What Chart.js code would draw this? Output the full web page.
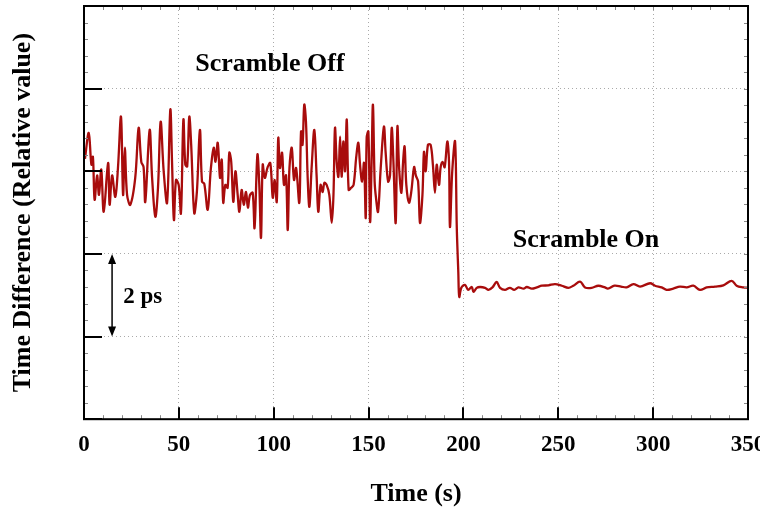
<!DOCTYPE html>
<html lang="en">
<head>
    <meta charset="UTF-8">
    <title>Time Difference - Scramble Off / On</title>
    <script src="https://cdn.jsdelivr.net/npm/chart.js"></script>
    <style>
        html, body { margin: 0; padding: 0; background: #fff; }
        canvas { display: block; }
    </style>
</head>
<body>
    <canvas id="timeChart" width="760" height="510"></canvas>

    <script>
        // Data
        const timeS = [
            0.5, 2.5, 3.9, 4.7, 5.6, 6.9, 7.9, 9.1, 10.4, 12.7, 13.5, 14.8, 16.5, 17.9, 19.5, 20.6, 21.5, 22.7, 24.4, 27.0,
            28.8, 30.2, 31.4, 32.3, 34.6, 35.9, 37.6, 39.0, 40.4, 42.0, 43.8, 45.5, 46.4, 47.4, 48.5, 49.9, 51.1, 52.4, 53.4, 54.4,
            55.5, 56.5, 58.1, 59.5, 61.1, 62.2, 63.4, 65.2, 66.9, 68.4, 69.3, 70.5, 71.7, 72.6, 73.4, 74.5, 75.7, 76.6, 77.6, 78.7,
            79.8, 81.0, 81.9, 83.1, 84.2, 85.4, 86.4, 87.5, 88.9, 89.9, 91.4, 92.4, 93.3, 94.2, 95.3, 96.8, 98.2, 99.5, 100.5, 101.6,
            102.4, 103.3, 104.4, 105.4, 106.5, 107.4, 108.3, 109.5, 110.7, 111.8, 113.5, 114.4, 115.2, 116.1, 117.0, 117.9, 118.8, 120.0, 121.4, 122.6,
            123.5, 124.7, 125.8, 126.7, 127.9, 129.3, 130.6, 131.5, 132.3, 133.2, 134.1, 135.0, 135.8, 136.7, 137.6, 138.5, 139.5, 140.8, 142.1, 143.5,
            144.6, 145.5, 146.6, 147.6, 148.5, 149.0, 149.9, 150.8, 151.6, 152.3, 153.2, 153.9, 155.0, 156.4, 158.1, 159.0, 160.3, 161.3, 162.2, 163.1,
            164.3, 165.2, 166.1, 167.3, 168.2, 169.0, 169.9, 171.3, 172.5, 174.0, 174.9, 176.1, 177.1, 178.4, 179.2, 180.1, 181.3, 182.7, 183.9, 185.0,
            185.9, 187.1, 188.0, 189.0, 190.1, 191.5, 192.4, 192.9, 194.1, 195.6, 196.5, 197.3, 197.8, 198.9, 200.8,
            202.5, 204.4, 205.3, 207.0, 208.8, 211.4, 213.2, 215.3, 217.5, 219.3, 221.9, 224.5, 226.8, 229.0, 231.7, 233.4, 236.0, 238.7, 241.3, 244.8,
            248.3, 251.8, 255.3, 257.9, 261.5, 264.1, 267.6, 271.1, 274.6, 276.1, 279.6, 283.1, 286.0, 289.6, 293.1, 298.4, 301.0, 304.5, 307.1, 310.6,
            314.1, 317.7, 321.2, 324.7, 328.2, 332.6, 337.0, 341.4, 344.0, 347.5, 350.0
        ];
        const diffPs = [
            6.30, 6.93, 6.16, 6.35, 5.31, 5.90, 5.43, 6.04, 5.02, 6.20, 5.19, 5.90, 5.38, 6.08, 7.32, 5.43, 6.57, 5.43, 5.19, 5.84,
            7.05, 6.23, 6.10, 5.26, 7.00, 5.84, 4.90, 5.60, 7.20, 6.00, 5.24, 7.49, 6.23, 4.82, 5.79, 5.67, 4.99, 7.25, 6.16, 6.12,
            7.32, 6.64, 4.99, 5.50, 7.00, 5.75, 5.70, 5.07, 6.08, 6.57, 6.23, 6.69, 5.84, 6.28, 5.24, 5.67, 5.60, 6.45, 6.23, 5.26,
            6.00, 5.43, 5.02, 5.55, 5.19, 5.50, 5.12, 5.43, 5.48, 4.63, 6.40, 5.67, 4.39, 6.16, 5.84, 6.10, 6.20, 5.36, 5.79, 5.26,
            6.81, 6.08, 6.45, 5.67, 5.90, 4.58, 6.08, 6.57, 5.79, 6.08, 5.24, 6.96, 6.64, 7.61, 7.20, 5.84, 5.14, 6.10, 7.00, 5.90,
            5.02, 5.67, 5.50, 5.72, 5.67, 5.43, 4.75, 5.43, 7.05, 6.23, 5.87, 6.84, 5.87, 6.72, 6.00, 7.25, 5.55, 5.60, 5.67, 6.35,
            6.69, 6.16, 5.75, 6.20, 4.87, 6.81, 6.96, 4.78, 6.23, 7.61, 5.75, 5.36, 5.02, 6.08, 7.08, 6.45, 5.75, 5.90, 7.05, 6.23,
            4.75, 7.08, 6.08, 5.48, 6.23, 6.60, 5.67, 5.24, 5.50, 6.10, 5.90, 5.75, 4.75, 5.43, 6.47, 6.00, 6.64, 6.64, 6.16, 5.48,
            6.16, 5.67, 6.10, 6.23, 6.10, 6.72, 6.23, 4.65, 6.00, 6.72, 4.63, 3.56, 2.96, 3.18, 3.25,
            3.13, 3.20, 3.08, 3.18, 3.20, 3.18, 3.13, 3.19, 3.32, 3.18, 3.13, 3.18, 3.13, 3.19, 3.16, 3.20, 3.16, 3.19, 3.23, 3.24,
            3.27, 3.23, 3.18, 3.23, 3.33, 3.19, 3.18, 3.23, 3.19, 3.16, 3.23, 3.21, 3.19, 3.27, 3.21, 3.29, 3.23, 3.19, 3.13, 3.16,
            3.21, 3.19, 3.23, 3.13, 3.19, 3.21, 3.24, 3.35, 3.23, 3.19, 3.18
        ];
        const xTicks = [0, 50, 100, 150, 200, 250, 300, 350];
        const yTicks = [0, 2, 4, 6, 8, 10];

        const serif = "'Liberation Serif', 'Times New Roman', serif";

        // Frame, inward ticks, arrow and labels
        const framePlugin = {
            id: "framePlugin",
            afterDraw(chart) {
                const ctx = chart.ctx;
                const xs = chart.scales.x;
                const ys = chart.scales.y;
                const a = chart.chartArea;
                ctx.save();

                // minor ticks
                ctx.strokeStyle = "#888";
                ctx.lineWidth = 1;
                ctx.beginPath();
                for (let v = 0; v <= 350; v += 10) {
                    const px = Math.round(xs.getPixelForValue(v)) + 0.5;
                    ctx.moveTo(px, a.bottom); ctx.lineTo(px, a.bottom - 4);
                    ctx.moveTo(px, a.top); ctx.lineTo(px, a.top + 4);
                }
                for (let v = 0; v <= 10.001; v += 0.4) {
                    const py = Math.round(ys.getPixelForValue(v)) + 0.5;
                    ctx.moveTo(a.left, py); ctx.lineTo(a.left + 4, py);
                    ctx.moveTo(a.right, py); ctx.lineTo(a.right - 4, py);
                }
                ctx.stroke();

                // major ticks
                ctx.strokeStyle = "#000";
                ctx.lineWidth = 2;
                ctx.beginPath();
                xTicks.forEach(v => {
                    const px = Math.round(xs.getPixelForValue(v));
                    ctx.moveTo(px, a.bottom); ctx.lineTo(px, a.bottom - 12);
                });
                yTicks.forEach(v => {
                    const py = Math.round(ys.getPixelForValue(v));
                    ctx.moveTo(a.left, py); ctx.lineTo(a.left + 18, py);
                });
                ctx.stroke();

                // frame
                ctx.lineWidth = 2;
                ctx.strokeRect(a.left, a.top, a.right - a.left, a.bottom - a.top);

                // 2 ps arrow
                const ax = xs.getPixelForValue(14.8);
                const y1 = ys.getPixelForValue(4);
                const y2 = ys.getPixelForValue(2);
                ctx.lineWidth = 1.5;
                ctx.beginPath();
                ctx.moveTo(ax, y1 + 6); ctx.lineTo(ax, y2 - 6);
                ctx.stroke();
                ctx.fillStyle = "#000";
                ctx.beginPath();
                ctx.moveTo(ax, y1); ctx.lineTo(ax - 4, y1 + 10); ctx.lineTo(ax + 4, y1 + 10); ctx.closePath();
                ctx.moveTo(ax, y2); ctx.lineTo(ax - 4, y2 - 10); ctx.lineTo(ax + 4, y2 - 10); ctx.closePath();
                ctx.fill();

                // annotations
                ctx.textAlign = "center";
                ctx.textBaseline = "middle";
                ctx.font = "bold 26px " + serif;
                ctx.fillText("Scramble Off", xs.getPixelForValue(98), ys.getPixelForValue(8.6));
                ctx.fillText("Scramble On", xs.getPixelForValue(264.6), ys.getPixelForValue(4.34));
                ctx.font = "bold 23px " + serif;
                ctx.fillText("2 ps", xs.getPixelForValue(31), ys.getPixelForValue(2.96));

                ctx.restore();
            }
        };

        const points = timeS.map((t, i) => ({ x: t, y: diffPs[i] }));

        new Chart(document.getElementById("timeChart"), {
            type: "line",
            data: {
                datasets: [{
                    data: points,
                    borderColor: "#a80c0c",
                    borderWidth: 2.3,
                    pointRadius: 0,
                    tension: 0.35,
                    fill: false,
                }],
            },
            options: {
                responsive: false,
                animation: false,
                layout: { padding: { left: 8, right: 12, top: 6, bottom: 0 } },
                plugins: {
                    legend: { display: false },
                    tooltip: { enabled: false },
                },
                scales: {
                    x: {
                        type: "linear",
                        min: 0,
                        max: 350,
                        afterBuildTicks: (scale) => { scale.ticks = xTicks.map(v => ({ value: v })); },
                        afterFit: (scale) => { scale.paddingLeft = 0; scale.paddingRight = 0; },
                        ticks: {
                            color: "#000",
                            padding: 12,
                            maxRotation: 0,
                            font: { family: serif, size: 23, weight: "bold" },
                        },
                        grid: {
                            color: (c) => (c.tick && (c.tick.value === 0 || c.tick.value === 350)) ? "rgba(0,0,0,0)" : "#aaa",
                            lineWidth: 1,
                            drawTicks: false,
                        },
                        border: { display: false, dash: [1, 3] },
                        title: {
                            display: true,
                            text: "Time (s)",
                            color: "#000",
                            font: { family: serif, size: 26, weight: "bold" },
                            padding: { top: 8, bottom: 0 },
                        },
                    },
                    y: {
                        min: 0,
                        max: 10,
                        afterBuildTicks: (scale) => { scale.ticks = yTicks.map(v => ({ value: v })); },
                        afterFit: (scale) => { scale.width = 76; },
                        ticks: { display: false },
                        grid: {
                            color: (c) => (c.tick && (c.tick.value === 0 || c.tick.value === 10)) ? "rgba(0,0,0,0)" : "#aaa",
                            lineWidth: 1,
                            drawTicks: false,
                        },
                        border: { display: false, dash: [1, 3] },
                        title: {
                            display: true,
                            text: "Time Difference (Relative value)",
                            color: "#000",
                            font: { family: serif, size: 26, weight: "bold" },
                            padding: 0,
                        },
                    },
                },
            },
            plugins: [framePlugin],
        });
    </script>
</body>
</html>
